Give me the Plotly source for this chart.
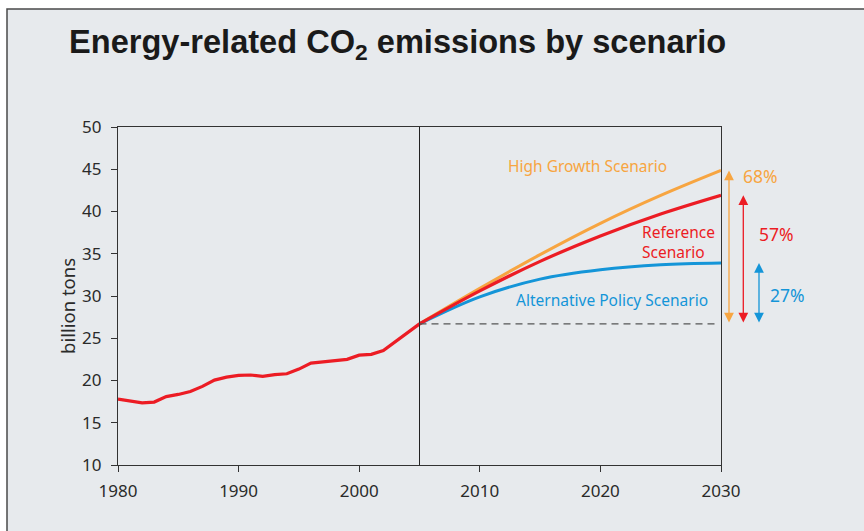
import plotly.graph_objects as go

# Historical emissions (billion tons), 1980-2005
hist_years = list(range(1980, 2006))
hist_values = [17.8, 17.55, 17.35, 17.45, 18.1, 18.35, 18.7, 19.3, 20.05, 20.4,
               20.6, 20.65, 20.5, 20.7, 20.8, 21.35, 22.05, 22.2, 22.35, 22.5,
               23.0, 23.1, 23.55, 24.6, 25.75, 26.7]

# Scenario projections, 2005-2030
proj_years = [2005, 2010, 2015, 2020, 2025, 2030]
high_growth = [26.7, 30.9, 34.9, 38.6, 41.9, 44.86]
reference = [26.7, 30.6, 34.1, 37.1, 39.7, 41.92]
alternative = [26.7, 29.9, 32.0, 33.1, 33.7, 33.91]

base_value = 26.7
pct_labels = ["68%", "57%", "27%"]

x_ticks = [1980, 1990, 2000, 2010, 2020, 2030]
y_ticks = [10, 15, 20, 25, 30, 35, 40, 45, 50]

ORANGE = "#f7a541"
RED = "#ec1c24"
BLUE = "#1495d8"
PANEL = "#e7eaed"
INK = "#2a2a2a"
FONT = "Noto Sans"

W, H = 864, 531
ML, MR, MT, MB = 118, 143, 127, 66
PW, PH = W - ML - MR, H - MT - MB


def pxx(px):
    """Horizontal pixel position -> paper fraction."""
    return (px - ML) / PW


def pxy(py):
    """Vertical pixel position -> paper fraction."""
    return (H - MB - py) / PH


fig = go.Figure()

fig.add_trace(go.Scatter(x=proj_years, y=high_growth, mode="lines",
                         line=dict(color=ORANGE, width=3, shape="spline"),
                         hoverinfo="skip"))
fig.add_trace(go.Scatter(x=proj_years, y=alternative, mode="lines",
                         line=dict(color=BLUE, width=3, shape="spline"),
                         hoverinfo="skip"))
fig.add_trace(go.Scatter(x=proj_years, y=reference, mode="lines",
                         line=dict(color=RED, width=3.2, shape="spline"),
                         hoverinfo="skip"))
fig.add_trace(go.Scatter(x=hist_years, y=hist_values, mode="lines",
                         line=dict(color=RED, width=3.2),
                         hoverinfo="skip"))

shapes = [
    # framed panel behind the chart
    dict(type="rect", xref="paper", yref="paper", layer="below",
         x0=pxx(7), x1=pxx(W + 10), y0=pxy(H + 10), y1=pxy(9),
         fillcolor=PANEL, line=dict(color="#4a4a4a", width=1.5)),
    # divider between history and projections
    dict(type="line", xref="x", yref="paper", x0=2005, x1=2005, y0=0, y1=1,
         line=dict(color="#222222", width=1)),
    # 2005 baseline
    dict(type="line", xref="x", yref="y", x0=2005, x1=2029.5,
         y0=base_value, y1=base_value,
         line=dict(color="#555555", width=1.2, dash="7px,5px")),
]

annotations = [
    dict(text="Energy-related CO<sub>2</sub> emissions by scenario",
         xref="paper", yref="paper", x=pxx(67), y=pxy(44),
         xanchor="left", yanchor="middle", showarrow=False,
         font=dict(family="Liberation Sans", size=32.6, color="#1a1a1a",
                   weight="bold")),
    dict(text="billion tons", xref="paper", yref="paper",
         x=pxx(67), y=pxy(306), textangle=-90, showarrow=False,
         xanchor="center", yanchor="middle",
         font=dict(family=FONT, size=18.5, color=INK)),
    dict(text="High Growth Scenario", xref="x", yref="y", x=2012.2, y=45.4,
         xanchor="left", yanchor="middle", showarrow=False,
         font=dict(family=FONT, size=15.5, color=ORANGE)),
    dict(text="Reference<br>Scenario", xref="x", yref="y", x=2023.25,
         y=36.45, xanchor="left", yanchor="middle", align="left",
         showarrow=False, font=dict(family=FONT, size=15.5, color=RED)),
    dict(text="Alternative Policy Scenario", xref="x", yref="y",
         x=2012.8, y=29.55, xanchor="left", yanchor="middle",
         showarrow=False, font=dict(family=FONT, size=15.5, color=BLUE)),
]

# double-headed growth arrows to the right of the plot with their labels
ends = [high_growth[-1], reference[-1], alternative[-1]]
colors = [ORANGE, RED, BLUE]
arrow_px = [729, 743.3, 759]
label_px = [741, 757.5, 767.5]
label_y = [44.2, 37.35, 30.15]
for end, col, ax_px, lx, ly, txt in zip(ends, colors, arrow_px, label_px,
                                         label_y, pct_labels):
    annotations.append(dict(
        xref="paper", yref="y", x=pxx(ax_px), y=end,
        axref="pixel", ayref="y", ax=0, ay=base_value,
        showarrow=True, arrowside="end+start", text="",
        arrowhead=2, startarrowhead=2, arrowsize=1.5, startarrowsize=1.5,
        arrowwidth=1.3, arrowcolor=col, standoff=0, startstandoff=0))
    annotations.append(dict(
        text=txt, xref="paper", yref="y", x=pxx(lx), y=ly,
        xanchor="left", yanchor="middle", showarrow=False,
        font=dict(family=FONT, size=17.5, color=col)))

fig.update_layout(
    width=W, height=H,
    margin=dict(l=ML, r=MR, t=MT, b=MB, pad=0),
    paper_bgcolor="white", plot_bgcolor=PANEL,
    showlegend=False,
    shapes=shapes, annotations=annotations,
    xaxis=dict(range=[1980, 2030], tickvals=x_ticks, ticks="outside",
               ticklen=6, tickwidth=1.2, tickcolor="#333333",
               showline=True, linecolor="#333333", linewidth=1.3,
               mirror=True, showgrid=False, zeroline=False,
               tickfont=dict(family=FONT, size=17, color=INK),
               ticklabelstandoff=4),
    yaxis=dict(range=[10, 50], tickvals=y_ticks, ticks="outside",
               ticklen=6, tickwidth=1.2, tickcolor="#333333",
               showline=True, linecolor="#333333", linewidth=1.3,
               mirror=True, showgrid=False, zeroline=False,
               tickfont=dict(family=FONT, size=17, color=INK),
               ticklabelstandoff=6),
)

fig.write_html("out.html")
